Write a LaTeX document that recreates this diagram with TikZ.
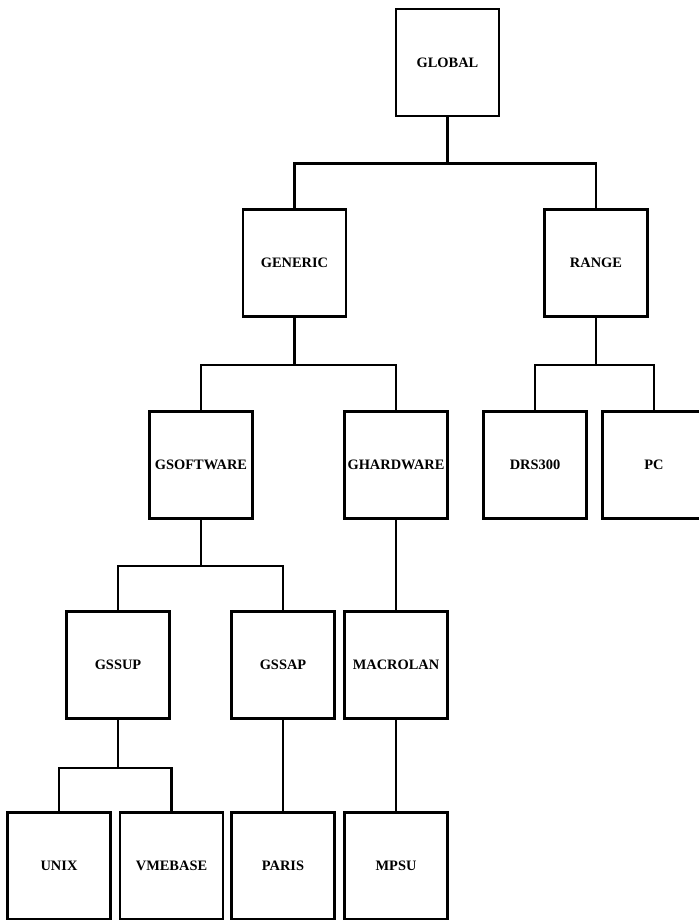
\documentclass[tikz,border=0pt]{standalone}
\usepackage{fontspec}
\setmainfont{Liberation Serif}
\usetikzlibrary{positioning}
\begin{document}
\begin{tikzpicture}[x=0.03cm,y=-0.03cm,
box/.style={draw,line width=2.2pt,minimum width=3.09cm,minimum height=3.21cm,inner sep=0pt,align=center,font=\fontsize{12.3}{14}\selectfont\bfseries},link/.style={line width=2.2pt}]
\useasboundingbox (0,0) rectangle (699,920);
% top level
\node[box] (global) at (447.5,62.5) {GLOBAL};
\node[box] (generic) at (294.5,263) {GENERIC};
\node[box] (range) at (596,263) {RANGE};
% third row
\node[box] (gsoft) at (201,465) {GSOFTWARE};
\node[box] (ghard) at (396,465) {GHARDWARE};
\node[box] (drs) at (535,465) {DRS300};
\node[box] (pc) at (654,465) {PC};
% fourth row
\node[box] (gssup) at (118,665) {GSSUP};
\node[box] (gssap) at (283,665) {GSSAP};
\node[box] (macrolan) at (396,665) {MACROLAN};
% bottom row
\node[box] (unix) at (59,866) {UNIX};
\node[box] (vmebase) at (171.5,866) {VMEBASE};
\node[box] (paris) at (283,866) {PARIS};
\node[box] (mpsu) at (396,866) {MPSU};
\draw[link] (global.south)--++(0,46)-|(generic.north); \draw[link] (global.south)--++(0,46)-|(range.north);
\draw[link] (generic.south)--++(0,47)-|(gsoft.north); \draw[link] (generic.south)--++(0,47)-|(ghard.north);
\draw[link] (range.south)--++(0,47)-|(drs.north); \draw[link] (range.south)--++(0,47)-|(pc.north);
\draw[link] (gsoft.south)--++(0,46)-|(gssup.north); \draw[link] (gsoft.south)--++(0,46)-|(gssap.north);
\draw[link] (ghard)--(macrolan);
\draw[link] (gssup.south)--++(0,48)-|(unix.north); \draw[link] (gssup.south)--++(0,48)-|(vmebase.north);
\draw[link] (gssap)--(paris); \draw[link] (macrolan)--(mpsu);
\end{tikzpicture}
\end{document}
